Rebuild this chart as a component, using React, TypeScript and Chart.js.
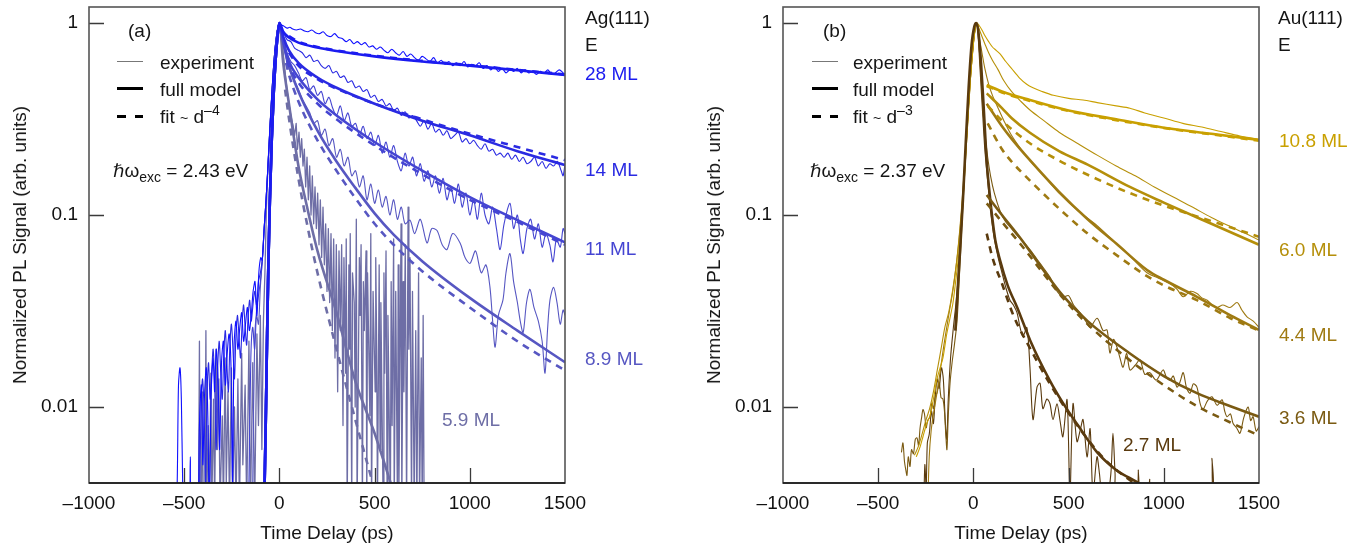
import React, { useEffect, useRef } from "react";
import { Chart, registerables } from "chart.js";
Chart.register(...registerables);

type Pt = [number, number];

const FONT = "'Liberation Sans', Arial, Helvetica, sans-serif";
const X_MIN = -1000;
const X_MAX = 1500;
const X_STEP = 500;
const X_TICK_MARKS = [-500, 0, 500, 1000];
const Y_MIN = 0.004019;
const Y_MAX = 1.2115;
const Y_TICKS = [0.01, 0.1, 1];
const Y_TICK_LABELS = ["0.01", "0.1", "1"];

// ---------- Panel (a): Ag(111) ----------
const A_LABELS = ["28 ML", "14 ML", "11 ML", "8.9 ML", "5.9 ML"];
const A_COLORS = ["#1b1bf0", "#2a2ae2", "#4545d2", "#5757c2", "#6e6ea6"];

const RISE_A: Pt[] = [[-80, 0.003], [-72, 0.008], [-65, 0.022], [-58, 0.055], [-50, 0.12], [-40, 0.25], [-30, 0.43], [-20, 0.64], [-10, 0.85], [0, 1]];

const MODEL_A_28: Pt[] = [...RISE_A, [20, 0.9], [50, 0.84], [100, 0.79], [200, 0.745], [300, 0.715], [500, 0.67], [750, 0.63], [1000, 0.6], [1250, 0.567], [1500, 0.537]];
const FIT_A_28: Pt[] = [[50, 0.855], [100, 0.8], [200, 0.75], [300, 0.72], [500, 0.675], [750, 0.635], [1000, 0.603], [1250, 0.57], [1500, 0.54]];
const MODEL_A_14: Pt[] = [...RISE_A, [20, 0.85], [50, 0.72], [100, 0.62], [200, 0.52], [300, 0.46], [500, 0.38], [750, 0.31], [1000, 0.26], [1250, 0.215], [1500, 0.182]];
const FIT_A_14: Pt[] = [[50, 0.7], [100, 0.6], [200, 0.51], [300, 0.455], [500, 0.38], [750, 0.315], [1000, 0.265], [1250, 0.226], [1500, 0.193]];
const MODEL_A_11: Pt[] = [...RISE_A, [20, 0.8], [50, 0.63], [100, 0.52], [200, 0.4], [300, 0.33], [500, 0.24], [750, 0.17], [1000, 0.124], [1250, 0.094], [1500, 0.072]];
const FIT_A_11: Pt[] = [[40, 0.64], [50, 0.6], [100, 0.49], [200, 0.38], [300, 0.315], [500, 0.23], [750, 0.163], [1000, 0.12], [1250, 0.092], [1500, 0.07]];
const MODEL_A_89: Pt[] = [...RISE_A, [20, 0.79], [50, 0.6], [100, 0.44], [200, 0.275], [300, 0.19], [400, 0.138], [500, 0.102], [600, 0.079], [750, 0.0575], [1000, 0.037], [1250, 0.025], [1500, 0.0171]];
const FIT_A_89: Pt[] = [[35, 0.62], [50, 0.54], [100, 0.39], [200, 0.245], [300, 0.17], [400, 0.122], [500, 0.09], [600, 0.07], [750, 0.051], [1000, 0.033], [1250, 0.022], [1500, 0.0155]];
const MODEL_A_59: Pt[] = [...RISE_A, [20, 0.62], [50, 0.38], [100, 0.18], [150, 0.105], [200, 0.065], [300, 0.031], [400, 0.0135], [500, 0.0073], [600, 0.0036], [700, 0.0018]];
const FIT_A_59: Pt[] = [[30, 0.45], [50, 0.32], [100, 0.155], [150, 0.085], [200, 0.05], [300, 0.02], [400, 0.0085], [500, 0.0037], [600, 0.0016]];

const EXP_RISE_A: Pt[] = [[-90, 0.058], [-80, 0.085], [-70, 0.12], [-60, 0.18], [-50, 0.28], [-40, 0.42], [-30, 0.6], [-20, 0.78], [-10, 0.92], [0, 1]];

const EXP_A_28: Pt[] = [
  [-560, 0.002], [-540, 0.003], [-530, 0.013], [-522, 0.016], [-515, 0.011], [-508, 0.004], [-500, 0.002], [-476, 0.002], [-468, 0.0055], [-461, 0.002],
  [-432, 0.002], [-420, 0.008], [-410, 0.013], [-402, 0.005], [-394, 0.011], [-384, 0.016], [-376, 0.009], [-368, 0.003], [-358, 0.012], [-348, 0.018],
  [-340, 0.012], [-332, 0.02], [-322, 0.014], [-314, 0.006], [-304, 0.017], [-294, 0.022], [-284, 0.013], [-274, 0.019], [-264, 0.024], [-254, 0.016],
  [-246, 0.004], [-238, 0.021], [-228, 0.028], [-218, 0.02], [-208, 0.026], [-198, 0.031], [-188, 0.022], [-178, 0.027], [-168, 0.033], [-158, 0.025],
  [-148, 0.03], [-138, 0.04], [-128, 0.045], [-118, 0.03], [-108, 0.05], [-98, 0.06],
  ...EXP_RISE_A,
  [10, 0.98], [25, 0.96], [40, 0.94], [55, 0.95], [70, 0.93], [90, 0.92], [110, 0.93], [130, 0.91], [150, 0.9], [170, 0.92], [190, 0.89], [210, 0.88],
  [230, 0.9], [250, 0.86], [270, 0.85], [290, 0.88], [310, 0.84], [330, 0.83], [350, 0.8], [370, 0.82], [390, 0.78], [410, 0.8], [430, 0.77], [450, 0.79],
  [470, 0.75], [490, 0.76], [510, 0.73], [530, 0.75], [550, 0.72], [570, 0.7], [590, 0.73], [610, 0.7], [630, 0.68], [650, 0.71], [670, 0.67], [690, 0.69],
  [710, 0.66], [730, 0.64], [750, 0.67], [770, 0.65], [790, 0.63], [810, 0.66], [830, 0.62], [850, 0.64], [870, 0.61], [890, 0.63], [910, 0.6], [930, 0.62],
  [950, 0.6], [970, 0.63], [990, 0.59], [1010, 0.61], [1030, 0.6], [1050, 0.62], [1070, 0.58], [1090, 0.6], [1110, 0.57], [1130, 0.59], [1150, 0.56],
  [1170, 0.58], [1190, 0.55], [1210, 0.57], [1230, 0.56], [1250, 0.58], [1270, 0.55], [1290, 0.57], [1310, 0.55], [1330, 0.56], [1350, 0.54], [1370, 0.56],
  [1390, 0.55], [1410, 0.57], [1430, 0.54], [1450, 0.55], [1470, 0.57], [1490, 0.55], [1500, 0.54],
];

const EXP_A_14: Pt[] = [
  [-420, 0.003], [-412, 0.009], [-404, 0.014], [-396, 0.01], [-388, 0.004], [-380, 0.012], [-372, 0.017], [-364, 0.011], [-356, 0.015], [-348, 0.02],
  [-340, 0.013], [-332, 0.006], [-324, 0.016], [-316, 0.022], [-308, 0.015], [-300, 0.011], [-292, 0.019], [-284, 0.025], [-276, 0.017], [-268, 0.012],
  [-260, 0.021], [-252, 0.027], [-244, 0.02], [-236, 0.014], [-228, 0.024], [-220, 0.03], [-212, 0.023], [-204, 0.018], [-196, 0.027], [-188, 0.034],
  [-180, 0.026], [-172, 0.021], [-164, 0.03], [-156, 0.036], [-148, 0.028], [-140, 0.033], [-130, 0.04], [-120, 0.034], [-110, 0.045], [-100, 0.05],
  ...EXP_RISE_A,
  [20, 0.9], [40, 0.82], [60, 0.8], [80, 0.74], [100, 0.72], [120, 0.7], [140, 0.66], [160, 0.68], [180, 0.63], [200, 0.64], [220, 0.6], [240, 0.58],
  [260, 0.6], [280, 0.55], [300, 0.56], [320, 0.52], [340, 0.53], [360, 0.49], [380, 0.5], [400, 0.46], [420, 0.47], [440, 0.44], [460, 0.45], [480, 0.41],
  [500, 0.42], [520, 0.39], [540, 0.4], [560, 0.37], [580, 0.38], [600, 0.35], [620, 0.36], [640, 0.33], [660, 0.345], [680, 0.32], [700, 0.33], [720, 0.31],
  [740, 0.29], [760, 0.31], [780, 0.28], [800, 0.3], [820, 0.27], [840, 0.28], [860, 0.26], [880, 0.275], [900, 0.25], [920, 0.26], [940, 0.27], [960, 0.24],
  [980, 0.25], [1000, 0.235], [1020, 0.245], [1040, 0.23], [1060, 0.22], [1080, 0.235], [1100, 0.215], [1120, 0.22], [1140, 0.205], [1160, 0.21],
  [1180, 0.2], [1200, 0.21], [1220, 0.195], [1240, 0.205], [1260, 0.19], [1280, 0.2], [1300, 0.185], [1320, 0.19], [1340, 0.2], [1360, 0.18], [1380, 0.19],
  [1400, 0.175], [1420, 0.185], [1440, 0.18], [1460, 0.19], [1480, 0.17], [1490, 0.16], [1500, 0.185],
];

const EXP_A_11: Pt[] = [
  [-160, 0.004], [-150, 0.018], [-140, 0.026], [-130, 0.02], [-120, 0.032], [-110, 0.038], [-100, 0.045],
  ...EXP_RISE_A,
  [20, 0.85], [40, 0.7], [60, 0.63], [80, 0.6], [100, 0.55], [120, 0.5], [140, 0.52], [160, 0.45], [180, 0.47], [200, 0.42], [220, 0.44], [240, 0.38],
  [260, 0.41], [280, 0.36], [300, 0.33], [320, 0.37], [340, 0.31], [360, 0.34], [380, 0.29], [400, 0.3], [420, 0.26], [440, 0.29], [460, 0.25], [480, 0.27],
  [500, 0.23], [520, 0.26], [540, 0.21], [560, 0.24], [580, 0.2], [600, 0.23], [620, 0.19], [640, 0.17], [660, 0.21], [680, 0.18], [700, 0.2], [720, 0.16],
  [740, 0.185], [760, 0.15], [780, 0.17], [800, 0.14], [820, 0.16], [840, 0.13], [860, 0.155], [880, 0.12], [900, 0.14], [920, 0.115], [940, 0.145],
  [960, 0.11], [980, 0.13], [1000, 0.1], [1020, 0.12], [1040, 0.095], [1060, 0.13], [1080, 0.1], [1100, 0.09], [1120, 0.11], [1140, 0.085], [1159, 0.066],
  [1180, 0.09], [1211, 0.115], [1230, 0.085], [1250, 0.1], [1265, 0.075], [1280, 0.063], [1300, 0.085], [1320, 0.095], [1340, 0.075], [1360, 0.09],
  [1380, 0.068], [1400, 0.08], [1420, 0.07], [1437, 0.057], [1455, 0.075], [1475, 0.068], [1490, 0.085], [1500, 0.08],
];

const EXP_A_89: Pt[] = [
  [-140, 0.004], [-130, 0.022], [-120, 0.03], [-110, 0.027], [-100, 0.042],
  ...EXP_RISE_A,
  [20, 0.8], [40, 0.62], [60, 0.55], [80, 0.5], [100, 0.45], [120, 0.4], [140, 0.37], [160, 0.34], [180, 0.3], [200, 0.31], [220, 0.26], [240, 0.28],
  [260, 0.23], [280, 0.25], [300, 0.2], [320, 0.22], [340, 0.18], [360, 0.2], [380, 0.16], [400, 0.17], [420, 0.14], [440, 0.16], [460, 0.12], [480, 0.145],
  [500, 0.115], [520, 0.135], [540, 0.11], [560, 0.125], [580, 0.1], [600, 0.12], [620, 0.095], [640, 0.11], [660, 0.09], [686, 0.094], [710, 0.08],
  [740, 0.095], [775, 0.0715], [800, 0.085], [828, 0.083], [855, 0.07], [880, 0.066], [910, 0.08], [949, 0.0715], [975, 0.06], [1001, 0.056], [1030, 0.065],
  [1060, 0.05], [1085, 0.055], [1106, 0.042], [1120, 0.028], [1133, 0.0205], [1150, 0.03], [1174, 0.036], [1190, 0.05], [1211, 0.063], [1230, 0.045],
  [1250, 0.035], [1265, 0.028], [1280, 0.0244], [1298, 0.035], [1316, 0.041], [1337, 0.033], [1360, 0.028], [1380, 0.022], [1395, 0.015], [1408, 0.025],
  [1421, 0.036], [1440, 0.042], [1458, 0.035], [1475, 0.027], [1490, 0.032], [1500, 0.03],
];

const EXP_A_59: Pt[] = [
  [-440, 0.003], [-425, 0.003], [-420, 0.022], [-416, 0.003], [-410, 0.003], [-405, 0.012], [-400, 0.003], [-392, 0.003], [-386, 0.025], [-382, 0.003],
  [-374, 0.008], [-368, 0.003], [-360, 0.015], [-355, 0.003], [-346, 0.011], [-340, 0.003], [-332, 0.02], [-326, 0.006], [-318, 0.014], [-312, 0.003],
  [-300, 0.009], [-294, 0.003], [-285, 0.018], [-279, 0.004], [-270, 0.012], [-262, 0.003], [-252, 0.016], [-246, 0.003], [-236, 0.01], [-228, 0.003],
  [-218, 0.014], [-210, 0.003], [-198, 0.019], [-192, 0.005], [-180, 0.013], [-172, 0.003], [-160, 0.022], [-152, 0.003], [-140, 0.017], [-130, 0.003],
  [-118, 0.024], [-110, 0.008], [-100, 0.03], [-92, 0.006], [-84, 0.028], [-76, 0.05], [-68, 0.11],
  [-60, 0.18], [-50, 0.28], [-40, 0.42], [-30, 0.6], [-20, 0.78], [-10, 0.92], [0, 1],
  [10, 0.88], [20, 0.7], [30, 0.55], [40, 0.45], [50, 0.38], [60, 0.33], [72, 0.29], [80, 0.26], [88, 0.3], [95, 0.22], [103, 0.27], [110, 0.2],
  [117, 0.25], [124, 0.18], [131, 0.22], [138, 0.14], [145, 0.2], [152, 0.12], [159, 0.18], [166, 0.1], [173, 0.16], [180, 0.09], [187, 0.14], [194, 0.085],
  [201, 0.13], [208, 0.07], [215, 0.12], [222, 0.06], [229, 0.11], [236, 0.055], [243, 0.09], [250, 0.04], [257, 0.085], [264, 0.035], [271, 0.08],
  [278, 0.025], [285, 0.075], [292, 0.018], [299, 0.07], [306, 0.012], [313, 0.065], [320, 0.025], [327, 0.07],
  [334, 0.008], [339, 0.06], [347, 0.015], [351, 0.075], [356, 0.003], [365, 0.055], [369, 0.02], [372, 0.08], [380, 0.003], [384, 0.05], [393, 0.035],
  [398, 0.01], [404, 0.095], [408, 0.003], [420, 0.06], [424, 0.03], [429, 0.07], [436, 0.003], [441, 0.045], [446, 0.025], [455, 0.065], [459, 0.003],
  [463, 0.05], [475, 0.009], [480, 0.08], [484, 0.003], [492, 0.04], [503, 0.012], [506, 0.06], [511, 0.02], [515, 0.003], [524, 0.055], [529, 0.006],
  [533, 0.035], [545, 0.003], [549, 0.05], [553, 0.015], [560, 0.065], [566, 0.003], [570, 0.03], [583, 0.003], [587, 0.045], [592, 0.008], [600, 0.075],
  [603, 0.003], [611, 0.04], [620, 0.003], [624, 0.055], [628, 0.004], [639, 0.09], [643, 0.003], [650, 0.045], [654, 0.012], [661, 0.07], [668, 0.003],
  [676, 0.11], [680, 0.02], [686, 0.06], [694, 0.003], [699, 0.04], [708, 0.003], [716, 0.025], [722, 0.003], [731, 0.05], [736, 0.003], [745, 0.018],
  [750, 0.003], [755, 0.03], [760, 0.003],
];

// ---------- Panel (b): Au(111) ----------
const B_LABELS = ["10.8 ML", "6.0 ML", "4.4 ML", "3.6 ML", "2.7 ML"];
const B_COLORS = ["#c9a000", "#b58f0a", "#9f7a12", "#7a5a12", "#5a3a0e"];

const MODEL_B_108: Pt[] = [[70, 0.475], [150, 0.44], [297, 0.397], [500, 0.35], [750, 0.315], [1000, 0.285], [1250, 0.265], [1500, 0.246]];
const FIT_B_108: Pt[] = [[70, 0.47], [150, 0.435], [297, 0.393], [500, 0.348], [750, 0.312], [1000, 0.284], [1250, 0.263], [1500, 0.244]];
const MODEL_B_60: Pt[] = [[70, 0.43], [150, 0.36], [200, 0.32], [297, 0.268], [450, 0.215], [600, 0.183], [822, 0.14], [1000, 0.116], [1250, 0.09], [1500, 0.07]];
const FIT_B_60: Pt[] = [[75, 0.37], [150, 0.31], [300, 0.235], [450, 0.192], [600, 0.162], [822, 0.13], [1000, 0.112], [1250, 0.093], [1500, 0.077]];
const MODEL_B_44: Pt[] = [[70, 0.38], [150, 0.29], [200, 0.25], [297, 0.193], [450, 0.132], [600, 0.095], [750, 0.071], [912, 0.0517], [1000, 0.046], [1174, 0.0375], [1350, 0.03], [1500, 0.0252]];
const FIT_B_44: Pt[] = [[75, 0.3], [150, 0.22], [200, 0.19], [300, 0.15], [450, 0.108], [600, 0.08], [750, 0.062], [912, 0.048], [1000, 0.043], [1174, 0.036], [1350, 0.029], [1500, 0.025]];
const MODEL_B_36: Pt[] = [[70, 0.127], [150, 0.1], [250, 0.075], [365, 0.052], [470, 0.038], [600, 0.028], [822, 0.019], [1000, 0.0145], [1174, 0.0118], [1350, 0.0101], [1500, 0.0089]];
const FIT_B_36: Pt[] = [[70, 0.115], [150, 0.092], [250, 0.07], [365, 0.05], [470, 0.037], [600, 0.027], [822, 0.0175], [1000, 0.013], [1174, 0.0101], [1350, 0.0083], [1500, 0.0071]];
const MODEL_B_27: Pt[] = [[-95, 0.025], [-80, 0.045], [-70, 0.065], [-55, 0.12], [-40, 0.24], [-25, 0.46], [-10, 0.76], [5, 0.96], [15, 1], [25, 0.92], [40, 0.62], [55, 0.35], [70, 0.19], [85, 0.13], [100, 0.095], [115, 0.074], [140, 0.058], [180, 0.043], [230, 0.033], [300, 0.022], [400, 0.0138], [470, 0.0105], [550, 0.008], [650, 0.0058], [750, 0.0047], [870, 0.004], [950, 0.0035]];
const FIT_B_27: Pt[] = [[70, 0.08], [100, 0.06], [150, 0.044], [210, 0.03], [300, 0.02], [400, 0.0133], [500, 0.0093], [600, 0.0068], [700, 0.0052], [860, 0.0039]];

const EXP_B_108: Pt[] = [
  [-300, 0.0055], [-280, 0.0062], [-265, 0.007], [-245, 0.0082], [-228, 0.009], [-210, 0.011], [-191, 0.014], [-175, 0.016], [-160, 0.018], [-140, 0.024],
  [-120, 0.03], [-107, 0.035], [-90, 0.048], [-75, 0.065], [-60, 0.1], [-45, 0.17], [-30, 0.3], [-15, 0.52], [0, 0.78], [10, 0.94], [18, 1],
  [30, 0.97], [45, 0.92], [60, 0.86], [80, 0.8], [100, 0.75], [120, 0.72], [140, 0.69], [170, 0.63], [200, 0.58], [240, 0.52], [280, 0.48], [313, 0.46],
  [360, 0.44], [420, 0.42], [500, 0.405], [576, 0.397], [650, 0.385], [750, 0.37], [822, 0.36], [900, 0.34], [1000, 0.32], [1100, 0.3], [1200, 0.287],
  [1300, 0.272], [1400, 0.258], [1500, 0.248],
];
const EXP_B_60: Pt[] = [
  [-310, 0.0056], [-290, 0.0062], [-270, 0.0072], [-250, 0.0085], [-230, 0.0098], [-210, 0.012], [-190, 0.0155], [-170, 0.02], [-150, 0.026], [-130, 0.031],
  [-110, 0.04], [-90, 0.055], [-75, 0.075], [-60, 0.11], [-45, 0.18], [-30, 0.31], [-15, 0.53], [0, 0.79], [10, 0.95], [18, 1],
  [30, 0.93], [45, 0.85], [60, 0.78], [80, 0.7], [100, 0.64], [130, 0.57], [160, 0.5], [200, 0.44], [250, 0.39], [300, 0.35], [370, 0.31], [450, 0.27],
  [550, 0.235], [650, 0.205], [750, 0.18], [850, 0.16], [950, 0.14], [1050, 0.124], [1150, 0.11], [1250, 0.097], [1350, 0.087], [1430, 0.08], [1500, 0.074],
];
const EXP_B_44: Pt[] = [
  [-240, 0.003], [-232, 0.0055], [-222, 0.0075], [-210, 0.0092], [-198, 0.0108], [-185, 0.013], [-170, 0.0165], [-155, 0.021], [-140, 0.026], [-125, 0.032],
  [-110, 0.039], [-95, 0.05], [-80, 0.068], [-65, 0.1], [-50, 0.16], [-35, 0.27], [-20, 0.45], [-5, 0.7], [8, 0.92], [18, 1],
  [30, 0.85], [45, 0.7], [60, 0.58], [80, 0.48], [100, 0.42], [130, 0.36], [160, 0.31], [200, 0.26], [250, 0.22], [300, 0.19], [370, 0.16], [450, 0.13],
  [550, 0.105], [650, 0.088], [750, 0.071], [830, 0.06], [912, 0.05], [970, 0.047], [1033, 0.044], [1070, 0.041], [1102, 0.0375], [1140, 0.04],
  [1174, 0.039], [1200, 0.037], [1228, 0.036], [1255, 0.034], [1280, 0.033], [1310, 0.034], [1348, 0.033], [1385, 0.035], [1410, 0.032], [1437, 0.0295],
  [1470, 0.028], [1500, 0.026],
];
const EXP_B_36: Pt[] = [
  [-378, 0.0058], [-370, 0.0065], [-362, 0.0052], [-355, 0.0047], [-349, 0.0044], [-342, 0.0055], [-333, 0.0049], [-325, 0.006], [-315, 0.0057],
  [-305, 0.0068], [-296, 0.0069], [-288, 0.0063], [-280, 0.0078], [-272, 0.0088], [-265, 0.0097], [-257, 0.0092], [-248, 0.0078], [-240, 0.0085],
  [-228, 0.0089], [-218, 0.0105], [-210, 0.0098], [-200, 0.0115], [-191, 0.0118], [-180, 0.0135], [-170, 0.0112], [-160, 0.011], [-152, 0.0095],
  [-145, 0.0072], [-139, 0.006], [-132, 0.009], [-123, 0.0132], [-112, 0.017], [-100, 0.021], [-86, 0.028], [-75, 0.045], [-60, 0.09], [-45, 0.17],
  [-30, 0.3], [-15, 0.52], [0, 0.78], [10, 0.94], [18, 1],
  [30, 0.75], [40, 0.52], [50, 0.36], [60, 0.27], [75, 0.2], [90, 0.16], [110, 0.13], [140, 0.105], [170, 0.092], [200, 0.085], [230, 0.078], [255, 0.074],
  [297, 0.066], [350, 0.056], [402, 0.0475], [440, 0.04], [470, 0.0375], [500, 0.038], [526, 0.034], [560, 0.031], [590, 0.028], [612, 0.026], [650, 0.029],
  [681, 0.025], [702, 0.0252], [717, 0.0191], [736, 0.0225], [754, 0.0205], [770, 0.018], [786, 0.0161], [805, 0.019], [822, 0.0156], [850, 0.0165],
  [875, 0.0176], [900, 0.0148], [927, 0.0151], [960, 0.0138], [996, 0.0156], [1015, 0.0142], [1033, 0.0138], [1050, 0.0145], [1069, 0.0127],
  [1085, 0.0135], [1102, 0.0151], [1120, 0.0125], [1138, 0.0118], [1155, 0.0132], [1174, 0.0127], [1190, 0.0105], [1205, 0.0097], [1230, 0.0108],
  [1253, 0.0113], [1280, 0.0102], [1306, 0.0109], [1320, 0.0095], [1332, 0.0089], [1350, 0.0092], [1364, 0.0082], [1382, 0.0078], [1400, 0.0073],
  [1420, 0.0088], [1443, 0.01], [1456, 0.0085], [1469, 0.0089], [1485, 0.0075], [1500, 0.0079],
];
const EXP_B_27: Pt[] = [
  [-262, 0.0025], [-255, 0.005], [-248, 0.0038], [-242, 0.0065], [-232, 0.0072], [-220, 0.0095], [-210, 0.0082], [-200, 0.0115], [-190, 0.014],
  [-180, 0.0125], [-168, 0.016], [-158, 0.014], [-148, 0.0085], [-140, 0.0068], [-132, 0.011], [-120, 0.018], [-105, 0.026], [-90, 0.036], [-75, 0.055],
  [-60, 0.095], [-45, 0.18], [-30, 0.32], [-15, 0.55], [0, 0.8], [10, 0.95], [18, 1],
  [22, 0.95], [30, 0.7], [40, 0.47], [50, 0.32], [60, 0.22], [75, 0.15], [90, 0.105], [110, 0.075], [130, 0.06], [150, 0.05], [170, 0.042], [192, 0.036],
  [210, 0.034], [229, 0.031], [245, 0.026], [260, 0.0233], [281, 0.0259], [297, 0.0161], [313, 0.0086], [334, 0.0127], [350, 0.0133], [365, 0.0098],
  [386, 0.011], [402, 0.0104], [418, 0.0086], [439, 0.0104], [455, 0.0085], [470, 0.007], [492, 0.0109], [507, 0.0035], [523, 0.0104], [544, 0.0066],
  [560, 0.0075], [576, 0.0086], [597, 0.0055], [613, 0.0077], [628, 0.0035], [649, 0.0055], [662, 0.0045], [675, 0.0035], [700, 0.0032], [722, 0.0045],
  [733, 0.0073], [744, 0.0045], [754, 0.0032], [860, 0.0032], [866, 0.0047], [872, 0.0032], [920, 0.0032], [926, 0.0042], [932, 0.0032], [1240, 0.0032],
  [1253, 0.0054], [1262, 0.0032], [1300, 0.0032],
];

// ---------- chart helpers ----------
type Series = { data: Pt[]; color: string; width: number; dash?: number[]; mode: "model" | "exp" | "spike" };

const framePlugin = {
  id: "frameTicks",
  afterDatasetsDraw(chart: any) {
    const { ctx, chartArea: a, scales } = chart;
    const x = scales.x;
    const y = scales.y;
    ctx.save();
    ctx.strokeStyle = "#3a3a3a";
    ctx.lineWidth = 1.3;
    ctx.beginPath();
    for (const v of X_TICK_MARKS) {
      const px = Math.round(x.getPixelForValue(v)) + 0.5;
      ctx.moveTo(px, a.bottom);
      ctx.lineTo(px, a.bottom - 15);
    }
    for (const v of Y_TICKS) {
      const py = Math.round(y.getPixelForValue(v)) + 0.5;
      ctx.moveTo(a.left, py);
      ctx.lineTo(a.left + 15, py);
    }
    ctx.stroke();
    ctx.strokeStyle = "#555";
    ctx.lineWidth = 1.6;
    ctx.strokeRect(a.left, a.top, a.right - a.left, a.bottom - a.top);
    ctx.strokeStyle = "#111";
    ctx.lineWidth = 1.6;
    ctx.beginPath();
    ctx.moveTo(a.left, a.bottom);
    ctx.lineTo(a.right, a.bottom);
    ctx.stroke();
    ctx.restore();
  },
};

function PanelChart({ left, chartLeft, padRight, series }: { left: number; chartLeft: number; padRight: number; series: Series[] }) {
  const ref = useRef<HTMLCanvasElement>(null);
  useEffect(() => {
    const chart = new Chart(ref.current as HTMLCanvasElement, {
      type: "line",
      data: {
        datasets: series.map((s) => ({
          data: s.data.map(([x, y]) => ({ x, y })),
          borderColor: s.color,
          borderWidth: s.width,
          borderDash: s.dash ?? [],
          pointRadius: 0,
          fill: false,
          tension: s.mode === "exp" ? 0.3 : 0,
          cubicInterpolationMode: s.mode === "model" ? "monotone" : "default",
          borderCapStyle: "butt",
          borderJoinStyle: "round",
        })) as any,
      },
      options: {
        responsive: false,
        animation: false,
        devicePixelRatio: 1,
        events: [],
        layout: { autoPadding: false, padding: { left: 0, top: 7, right: padRight, bottom: 0 } } as any,
        plugins: { legend: { display: false }, tooltip: { enabled: false } },
        scales: {
          x: {
            type: "linear",
            min: X_MIN,
            max: X_MAX,
            grid: { display: false, drawTicks: false },
            border: { display: false },
            ticks: {
              stepSize: X_STEP,
              padding: 9,
              color: "#111",
              font: { family: FONT, size: 19 },
              maxRotation: 0,
              autoSkip: false,
              callback: (v: any) => String(v).replace("-", "\u2013"),
            },
            afterFit: (s: any) => {
              s.height = 66;
              s.paddingLeft = 0;
              s.paddingRight = 0;
            },
          },
          y: {
            type: "logarithmic",
            min: Y_MIN,
            max: Y_MAX,
            grid: { display: false, drawTicks: false },
            border: { display: false },
            ticks: {
              padding: 11,
              color: "#111",
              font: { family: FONT, size: 19 },
              autoSkip: false,
              callback: (v: any) => {
                const i = Y_TICKS.findIndex((t) => Math.abs(t - v) < t * 1e-6);
                return i >= 0 ? Y_TICK_LABELS[i] : "";
              },
            },
            afterBuildTicks: (s: any) => {
              s.ticks = Y_TICKS.map((v) => ({ value: v }));
            },
            afterFit: (s: any) => {
              s.width = chartLeft;
              s.paddingTop = 0;
              s.paddingBottom = 0;
            },
          },
        } as any,
      },
      plugins: [framePlugin],
    });
    return () => chart.destroy();
  }, []);
  return (
    <canvas
      ref={ref}
      width={685}
      height={549}
      style={{ position: "absolute", left, top: 0, width: 685, height: 549 }}
    />
  );
}

const TXT = "#151515";

function T({ x, b, children, color = TXT, size = 19 }: { x: number; b: number; children: any; color?: string; size?: number }) {
  return (
    <div
      style={{
        position: "absolute",
        left: x,
        top: b - 17.6,
        fontSize: size,
        lineHeight: "22px",
        color,
        whiteSpace: "nowrap",
        fontFamily: FONT,
      }}
    >
      {children}
    </div>
  );
}

function Legend({ x0, textX, fitPower }: { x0: number; textX: number; fitPower: string }) {
  return (
    <>
      <div style={{ position: "absolute", left: x0, top: 60.5, width: 26, height: 1.3, background: "#777" }} />
      <div style={{ position: "absolute", left: x0, top: 87, width: 26, height: 3, background: "#000" }} />
      <div style={{ position: "absolute", left: x0, top: 115, width: 9, height: 3, background: "#000" }} />
      <div style={{ position: "absolute", left: x0 + 18, top: 115, width: 8, height: 3, background: "#000" }} />
      <T x={textX} b={69.5}>experiment</T>
      <T x={textX} b={96.5}>full model</T>
      <T x={textX} b={123.5}>
        fit <span style={{ fontSize: 14 }}>~</span> d
        <span style={{ fontSize: 14, position: "relative", top: -8 }}>{fitPower}</span>
      </T>
    </>
  );
}

function Photon({ x, value }: { x: number; value: string }) {
  return (
    <T x={x} b={178}>
      <span style={{ fontFamily: "'DejaVu Sans', sans-serif", fontStyle: "italic", fontSize: 18 }}>ℏ</span>
      <span>ω</span>
      <span style={{ fontSize: 14, position: "relative", top: 5 }}>exc</span>
      <span> = {value}</span>
    </T>
  );
}

function YTitle({ cx }: { cx: number }) {
  return (
    <div
      style={{
        position: "absolute",
        left: cx,
        top: 245,
        transform: "translate(-50%, -50%) rotate(-90deg)",
        fontSize: 19,
        lineHeight: "22px",
        fontFamily: FONT,
        color: TXT,
        whiteSpace: "nowrap",
      }}
    >
      Normalized PL Signal (arb. units)
    </div>
  );
}

function XTitle({ cx }: { cx: number }) {
  return (
    <div
      style={{
        position: "absolute",
        left: cx,
        top: 540 - 17.6,
        transform: "translateX(-50%)",
        fontSize: 19,
        lineHeight: "22px",
        fontFamily: FONT,
        color: TXT,
        whiteSpace: "nowrap",
      }}
    >
      Time Delay (ps)
    </div>
  );
}

const SERIES_A: Series[] = [
  { data: FIT_A_28, color: A_COLORS[0], width: 2.6, dash: [7, 6], mode: "model" },
  { data: MODEL_A_28, color: A_COLORS[0], width: 2.6, mode: "model" },
  { data: FIT_A_14, color: A_COLORS[1], width: 2.6, dash: [7, 6], mode: "model" },
  { data: MODEL_A_14, color: A_COLORS[1], width: 2.6, mode: "model" },
  { data: FIT_A_11, color: A_COLORS[2], width: 2.6, dash: [7, 6], mode: "model" },
  { data: MODEL_A_11, color: A_COLORS[2], width: 2.6, mode: "model" },
  { data: FIT_A_89, color: A_COLORS[3], width: 2.6, dash: [7, 6], mode: "model" },
  { data: MODEL_A_89, color: A_COLORS[3], width: 2.6, mode: "model" },
  { data: FIT_A_59, color: A_COLORS[4], width: 2.6, dash: [7, 6], mode: "model" },
  { data: MODEL_A_59, color: A_COLORS[4], width: 2.6, mode: "model" },
  { data: EXP_A_28, color: "#1010ff", width: 1.1, mode: "exp" },
  { data: EXP_A_14, color: A_COLORS[1], width: 1.1, mode: "exp" },
  { data: EXP_A_11, color: A_COLORS[2], width: 1.1, mode: "exp" },
  { data: EXP_A_89, color: A_COLORS[3], width: 1.1, mode: "exp" },
  { data: EXP_A_59, color: A_COLORS[4], width: 1.3, mode: "spike" },
];

const SERIES_B: Series[] = [
  { data: FIT_B_108, color: B_COLORS[0], width: 2.6, dash: [7, 6], mode: "model" },
  { data: MODEL_B_108, color: B_COLORS[0], width: 2.6, mode: "model" },
  { data: FIT_B_60, color: B_COLORS[1], width: 2.6, dash: [7, 6], mode: "model" },
  { data: MODEL_B_60, color: B_COLORS[1], width: 2.6, mode: "model" },
  { data: FIT_B_44, color: B_COLORS[2], width: 2.6, dash: [7, 6], mode: "model" },
  { data: MODEL_B_44, color: B_COLORS[2], width: 2.6, mode: "model" },
  { data: FIT_B_36, color: B_COLORS[3], width: 2.6, dash: [7, 6], mode: "model" },
  { data: MODEL_B_36, color: B_COLORS[3], width: 2.6, mode: "model" },
  { data: FIT_B_27, color: B_COLORS[4], width: 2.6, dash: [7, 6], mode: "model" },
  { data: MODEL_B_27, color: B_COLORS[4], width: 2.6, mode: "model" },
  { data: EXP_B_108, color: B_COLORS[0], width: 1.1, mode: "exp" },
  { data: EXP_B_60, color: B_COLORS[1], width: 1.1, mode: "exp" },
  { data: EXP_B_44, color: B_COLORS[2], width: 1.1, mode: "exp" },
  { data: EXP_B_36, color: B_COLORS[3], width: 1.1, mode: "exp" },
  { data: EXP_B_27, color: B_COLORS[4], width: 1.1, mode: "exp" },
];

const LABEL_POS_A: [number, number][] = [[585, 81], [585, 176.5], [585, 256], [585, 366], [442, 427]];
const LABEL_POS_B: [number, number][] = [[1279, 147.5], [1279, 256.5], [1279, 341.5], [1279, 424.5], [1123, 451.5]];

export default function App() {
  return (
    <div style={{ position: "absolute", left: 0, top: 0, width: 1370, height: 549, background: "#fff", overflow: "hidden" }}>
      <PanelChart left={0} chartLeft={89} padRight={120} series={SERIES_A} />
      <PanelChart left={685} chartLeft={98} padRight={111} series={SERIES_B} />

      <YTitle cx={20} />
      <YTitle cx={714} />
      <XTitle cx={327} />
      <XTitle cx={1021} />

      <T x={128} b={38}>(a)</T>
      <Legend x0={117} textX={160} fitPower={"\u20134"} />
      <Photon x={113} value="2.43 eV" />
      <T x={585} b={25}>Ag(111)</T>
      <T x={585} b={52}>E</T>
      {A_LABELS.map((l, i) => (
        <T key={l} x={LABEL_POS_A[i][0]} b={LABEL_POS_A[i][1]} color={A_COLORS[i]}>{l}</T>
      ))}

      <T x={823} b={38}>(b)</T>
      <Legend x0={812} textX={853} fitPower={"\u20133"} />
      <Photon x={810} value="2.37 eV" />
      <T x={1278} b={25}>Au(111)</T>
      <T x={1278} b={52}>E</T>
      {B_LABELS.map((l, i) => (
        <T key={l} x={LABEL_POS_B[i][0]} b={LABEL_POS_B[i][1]} color={B_COLORS[i]}>{l}</T>
      ))}
    </div>
  );
}
